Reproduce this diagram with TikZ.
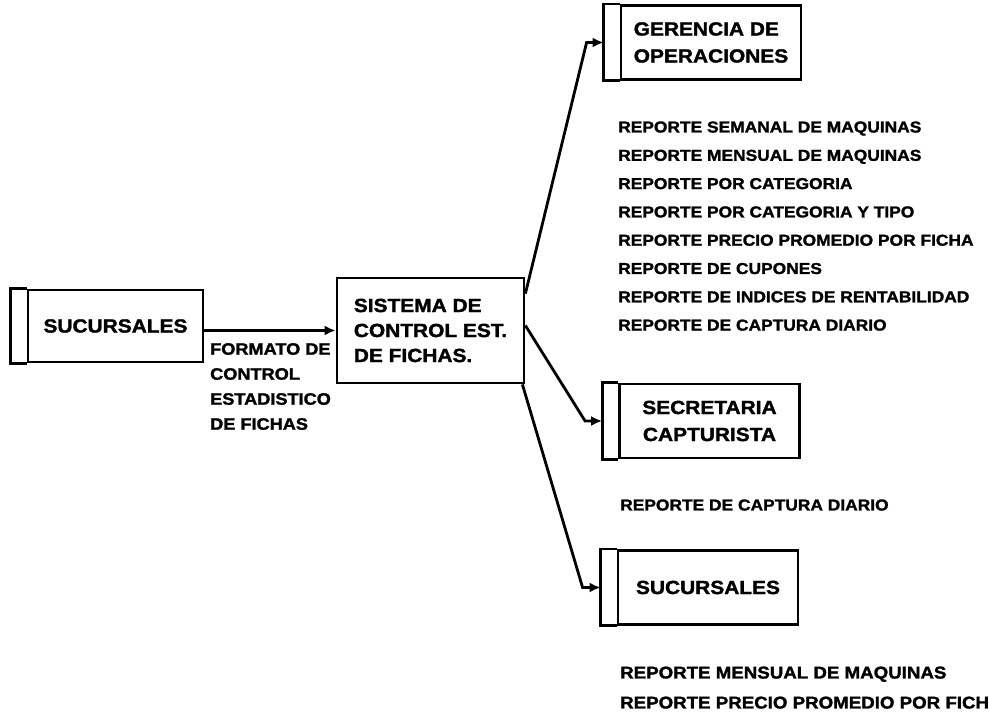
\documentclass[tikz,border=0pt]{standalone}
\usepackage{fontspec}
\setmainfont{Liberation Sans}[FakeStretch=1.1, BoldFeatures={FakeBold=1.6}]
\usetikzlibrary{arrows.meta}

\begin{document}
\begin{tikzpicture}[x=1pt,y=1pt,
  caja/.style={draw, line width=2.8pt, minimum width=180pt, minimum height=74pt, inner sep=0pt,
    align=left, font=\fontsize{19}{27}\selectfont\bfseries},
  flecha/.style={line width=2.8pt, -{Latex[length=11pt,width=10pt]}},
  rep/.style={anchor=west, inner sep=0pt, text height=11pt, text depth=0pt,
    font=\fontsize{15.8}{18}\selectfont\bfseries}]
\clip (0,0) rectangle (989,719);
% cajas
\node[caja, minimum width=175pt, minimum height=72pt] (suc) at (115.5,393) {SUCURSALES};
\node[caja, minimum width=187pt, minimum height=105pt, font=\fontsize{19}{25}\selectfont\bfseries] (sis) at (430.5,388.5) {SISTEMA DE\\CONTROL EST.\\DE FICHAS.};
\node[caja] (ger) at (711,676.5) {GERENCIA DE\\OPERACIONES};
\node[caja, align=center] (sec) at (709.5,298) {SECRETARIA\\CAPTURISTA};
\node[caja] (suc2) at (708,131.5) {SUCURSALES};
\foreach \n in {suc,ger,sec,suc2} {\draw [line width=2.8pt] (\n.north west) -- ++(-16,0) |- (\n.south west);}
% flujos
\draw [flecha] (suc.east |- sis.west) -- (sis.west);
\node[anchor=north west, align=left, inner sep=0pt, font=\fontsize{16.5}{25}\selectfont\bfseries] (fmt) at (210,376) {FORMATO DE\\CONTROL\\ESTADISTICO\\DE FICHAS};
\draw [flecha] ([yshift=-17pt]sis.north east) -- ([xshift=-33pt]ger.west) -- ([xshift=-16pt]ger.west);
\draw [flecha] ([yshift=5pt]sis.east) -- ([xshift=-33pt]sec.west) -- ([xshift=-16pt]sec.west);
\draw [flecha] ([xshift=-3pt]sis.south east) -- ([xshift=-34pt]suc2.west) -- ([xshift=-16pt]suc2.west);
% reportes
\foreach \t [count=\i from 0] in {REPORTE SEMANAL DE MAQUINAS, REPORTE MENSUAL DE MAQUINAS, REPORTE POR CATEGORIA, REPORTE POR CATEGORIA Y TIPO, REPORTE PRECIO PROMEDIO POR FICHA, REPORTE DE CUPONES, REPORTE DE INDICES DE RENTABILIDAD, REPORTE DE CAPTURA DIARIO} {\node[rep] (g\i) at (618,{592-28.3*\i}) {\t};}
\node[rep] (s0) at (620,214) {REPORTE DE CAPTURA DIARIO};
\node[rep, font=\fontsize{17}{18}\selectfont\bfseries] (b0) at (620,46) {REPORTE MENSUAL DE MAQUINAS};
\node[rep, font=\fontsize{17}{18}\selectfont\bfseries] (b1) at (620,16) {REPORTE PRECIO PROMEDIO POR FICHA};
\end{tikzpicture}
\end{document}
